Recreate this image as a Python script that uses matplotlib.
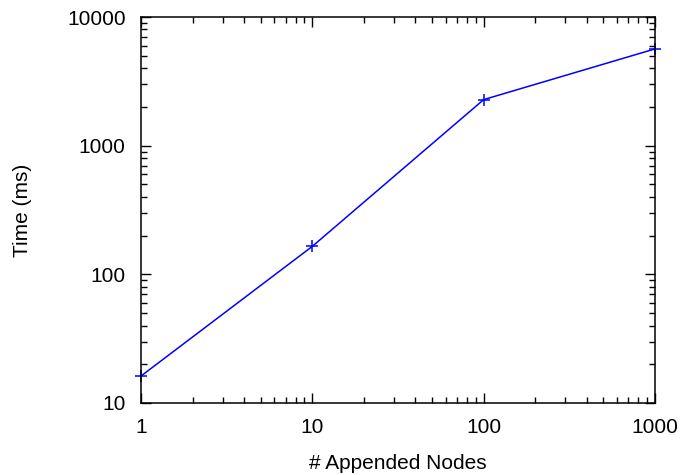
import matplotlib
matplotlib.use("Agg")
import matplotlib.pyplot as plt
from matplotlib.ticker import LogLocator, FixedLocator, NullFormatter

plt.rcParams['font.family'] = ['Liberation Sans', 'DejaVu Sans']

nodes = [1, 10, 100, 1000]
times = [16.2, 165, 2280, 5650]

fig = plt.figure(figsize=(6.87, 4.75), dpi=100)
ax = fig.add_axes([141/687, 1 - 403/475, (655 - 141)/687, (403 - 17)/475])

ax.plot(nodes, times, color='#0000ff', lw=1.1, marker='+', ms=9, mew=1.1, clip_on=False)

ax.set_xscale('log')
ax.set_yscale('log')
ax.set_xlim(1, 1000)
ax.set_ylim(10, 10000)

ax.xaxis.set_major_locator(FixedLocator([1, 10, 100, 1000]))
ax.yaxis.set_major_locator(FixedLocator([10, 100, 1000, 10000]))
ax.set_xticklabels(['1', '10', '100', '1000'])
ax.set_yticklabels(['10', '100', '1000', '10000'])
for a in (ax.xaxis, ax.yaxis):
    a.set_minor_locator(LogLocator(base=10, subs=range(2, 10)))
    a.set_minor_formatter(NullFormatter())

ax.tick_params(which='both', direction='in', top=True, right=True, width=1, labelsize=15, colors='black')
ax.tick_params(which='major', length=7, pad=11)
ax.tick_params(which='minor', length=4)
for s in ax.spines.values():
    s.set_linewidth(1.1)

ax.set_xlabel('# Appended Nodes', fontsize=15, labelpad=12)
ax.set_ylabel('Time (ms)', fontsize=15, labelpad=25)

fig.savefig('out.png', dpi=100)
